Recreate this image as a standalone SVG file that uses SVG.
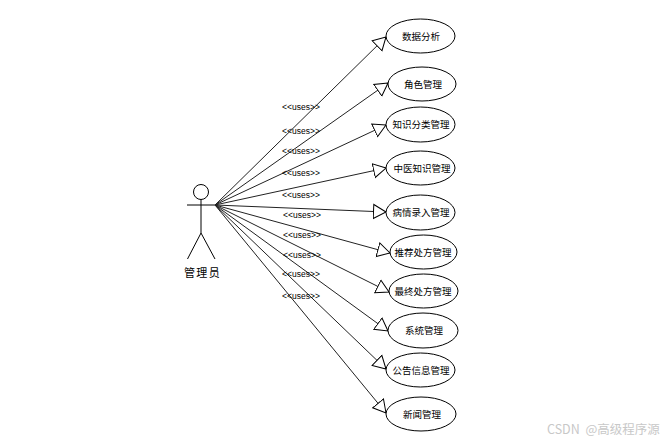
<svg xmlns="http://www.w3.org/2000/svg" width="665" height="444" viewBox="0 0 665 444">
<style>
.bg{fill:#fff}
.uc{fill:#fff;stroke:#000;stroke-width:1}
.t{font-family:"Noto Sans CJK SC","Liberation Sans",sans-serif;font-size:9.5px;fill:#000;text-anchor:middle}
.l{font-family:"Liberation Sans",sans-serif;font-size:8.5px;fill:#000;text-anchor:middle}
.c line{stroke:#222;stroke-width:1;marker-end:url(#tri)}
.a{fill:none;stroke:#000;stroke-width:1}
.w{font-family:"Noto Sans CJK SC","Liberation Sans",sans-serif;font-size:12.500px;fill:#c8c8c8;word-spacing:3px}
</style>
<defs>
<marker id="tri" markerUnits="userSpaceOnUse" markerWidth="16" markerHeight="18" refX="13" refY="7.5" orient="auto" viewBox="0 0 16 15">
<path d="M13,7.5 L0.5,0.5 L0.5,14.5 Z" fill="#fff" stroke="#000" stroke-width="1"/>
</marker>
</defs>
<rect class="bg" width="665" height="444"/>
<g id="connectors" class="c">
<line x1="215" y1="205" x2="386" y2="37"/>
<line x1="215" y1="205" x2="388" y2="83"/>
<line x1="215" y1="205" x2="386" y2="125"/>
<line x1="215" y1="205" x2="386" y2="168"/>
<line x1="215" y1="205" x2="386" y2="212"/>
<line x1="215" y1="205" x2="390" y2="253"/>
<line x1="215" y1="205" x2="389" y2="292"/>
<line x1="215" y1="205" x2="388" y2="331"/>
<line x1="215" y1="205" x2="386" y2="369"/>
<line x1="215" y1="205" x2="386" y2="413"/>
</g>
<g id="connector-labels">
<text class="l" x="301" y="110">&lt;&lt;uses&gt;&gt;</text>
<text class="l" x="301" y="134">&lt;&lt;uses&gt;&gt;</text>
<text class="l" x="301" y="154">&lt;&lt;uses&gt;&gt;</text>
<text class="l" x="301" y="176">&lt;&lt;uses&gt;&gt;</text>
<text class="l" x="301" y="198">&lt;&lt;uses&gt;&gt;</text>
<text class="l" x="302" y="218">&lt;&lt;uses&gt;&gt;</text>
<text class="l" x="302" y="238">&lt;&lt;uses&gt;&gt;</text>
<text class="l" x="302" y="258">&lt;&lt;uses&gt;&gt;</text>
<text class="l" x="301" y="277">&lt;&lt;uses&gt;&gt;</text>
<text class="l" x="301" y="299">&lt;&lt;uses&gt;&gt;</text>
</g>
<g id="actor">
<circle class="a" cx="201" cy="192" r="7.5"/>
<path class="a" d="M187,205H215M201,199.500V233L187.500,259M201,233L215,259"/>
<text x="202.500" y="276.500" style="font-family:'Noto Sans CJK SC',sans-serif;font-size:11px;letter-spacing:1.300px;text-anchor:middle">管理员</text>
</g>
<g id="uc1"><ellipse class="uc" cx="420.500" cy="36" rx="34.500" ry="17"/><text class="t" x="421" y="39.500">数据分析</text></g>
<g id="uc2"><ellipse class="uc" cx="422" cy="84" rx="34" ry="17"/><text class="t" x="423" y="87.500">角色管理</text></g>
<g id="uc3"><ellipse class="uc" cx="420.500" cy="124.500" rx="34.500" ry="17.500"/><text class="t" x="421" y="128">知识分类管理</text></g>
<g id="uc4"><ellipse class="uc" cx="420.500" cy="168" rx="34.500" ry="17"/><text class="t" x="422" y="171.500">中医知识管理</text></g>
<g id="uc5"><ellipse class="uc" cx="420.500" cy="212.500" rx="34.500" ry="17.500"/><text class="t" x="421" y="216">病情录入管理</text></g>
<g id="uc6"><ellipse class="uc" cx="423.500" cy="252" rx="33.500" ry="17"/><text class="t" x="423" y="255.500">推荐处方管理</text></g>
<g id="uc7"><ellipse class="uc" cx="423.500" cy="291" rx="34.500" ry="17"/><text class="t" x="423" y="294.500">最终处方管理</text></g>
<g id="uc8"><ellipse class="uc" cx="423" cy="330.500" rx="35" ry="17.500"/><text class="t" x="424" y="334">系统管理</text></g>
<g id="uc9"><ellipse class="uc" cx="420.500" cy="370" rx="34.500" ry="17"/><text class="t" x="421" y="373.500">公告信息管理</text></g>
<g id="uc10"><ellipse class="uc" cx="421" cy="414" rx="35" ry="17"/><text class="t" x="422" y="417.500">新闻管理</text></g>
<text class="w" x="547" y="434">CSDN @高级程序源</text>
</svg>
